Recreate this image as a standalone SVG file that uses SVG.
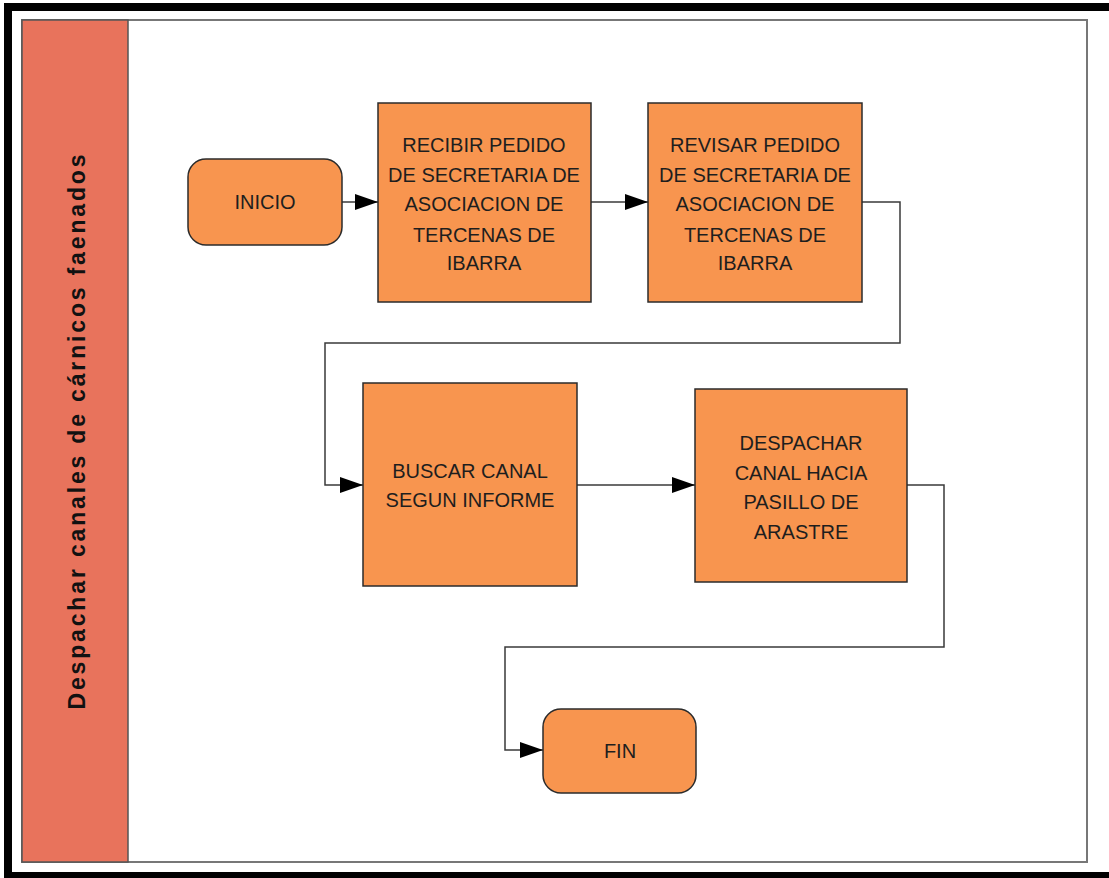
<svg xmlns="http://www.w3.org/2000/svg" width="1109" height="878" viewBox="0 0 1109 878">
<style>
.node{fill:#F8954F;stroke:#2b2b2b;stroke-width:1.5}
.lbl{font-family:"Liberation Sans",Arial,sans-serif;font-size:20px;fill:#1e1e1e;text-anchor:middle}
.conn{fill:none;stroke:#3a3a3a;stroke-width:1.5}
</style>
<defs>
<marker id="arr" markerWidth="24" markerHeight="18" refX="23" refY="8" orient="auto" markerUnits="userSpaceOnUse">
<path d="M0,0 L23,8 L0,16 Z" fill="#000"/>
</marker>
</defs>
<rect x="0" y="0" width="1109" height="878" fill="#fff"/>
<rect x="8" y="7" width="1105" height="869" fill="#fff" stroke="#000" stroke-width="8"/>
<g id="pool">
<rect x="22" y="20" width="1065" height="842" fill="#fff" stroke="#777" stroke-width="2"/>
<rect id="lane" x="22" y="20" width="106" height="842" fill="#E8735C" stroke="#555" stroke-width="1.5"/>
<text transform="translate(85,432) rotate(-90)" font-family="'Liberation Sans',Arial,sans-serif" font-size="23" font-weight="bold" fill="#111" text-anchor="middle" textLength="555" lengthAdjust="spacing">Despachar canales de cárnicos faenados</text>
</g>
<g id="connectors">
<path class="conn" d="M342,202 L378,202" marker-end="url(#arr)"/>
<path class="conn" d="M591,202 L648,202" marker-end="url(#arr)"/>
<path class="conn" d="M862,202 L900,202 L900,343 L325,343 L325,485 L363,485" marker-end="url(#arr)"/>
<path class="conn" d="M577,485 L695,485" marker-end="url(#arr)"/>
<path class="conn" d="M907,485 L944,485 L944,647 L505,647 L505,750 L543,750" marker-end="url(#arr)"/>
</g>
<g id="inicio">
<rect class="node" x="188" y="159" width="154" height="86" rx="18"/>
<text class="lbl" x="265" y="209">INICIO</text>
</g>
<g id="recibir">
<rect class="node" x="378" y="103" width="213" height="199"/>
<text class="lbl" x="484" y="152">RECIBIR PEDIDO</text>
<text class="lbl" x="484" y="182">DE SECRETARIA DE</text>
<text class="lbl" x="484" y="211">ASOCIACION DE</text>
<text class="lbl" x="484" y="242">TERCENAS DE</text>
<text class="lbl" x="484" y="270">IBARRA</text>
</g>
<g id="revisar">
<rect class="node" x="648" y="103" width="214" height="199"/>
<text class="lbl" x="755" y="152">REVISAR PEDIDO</text>
<text class="lbl" x="755" y="182">DE SECRETARIA DE</text>
<text class="lbl" x="755" y="211">ASOCIACION DE</text>
<text class="lbl" x="755" y="242">TERCENAS DE</text>
<text class="lbl" x="755" y="270">IBARRA</text>
</g>
<g id="buscar">
<rect class="node" x="363" y="383" width="214" height="203"/>
<text class="lbl" x="470" y="478">BUSCAR CANAL</text>
<text class="lbl" x="470" y="507">SEGUN INFORME</text>
</g>
<g id="despachar">
<rect class="node" x="695" y="389" width="212" height="193"/>
<text class="lbl" x="801" y="450">DESPACHAR</text>
<text class="lbl" x="801" y="480">CANAL HACIA</text>
<text class="lbl" x="801" y="509">PASILLO DE</text>
<text class="lbl" x="801" y="539">ARASTRE</text>
</g>
<g id="fin">
<rect class="node" x="543" y="709" width="153" height="84" rx="18"/>
<text class="lbl" x="620" y="758">FIN</text>
</g>
</svg>
